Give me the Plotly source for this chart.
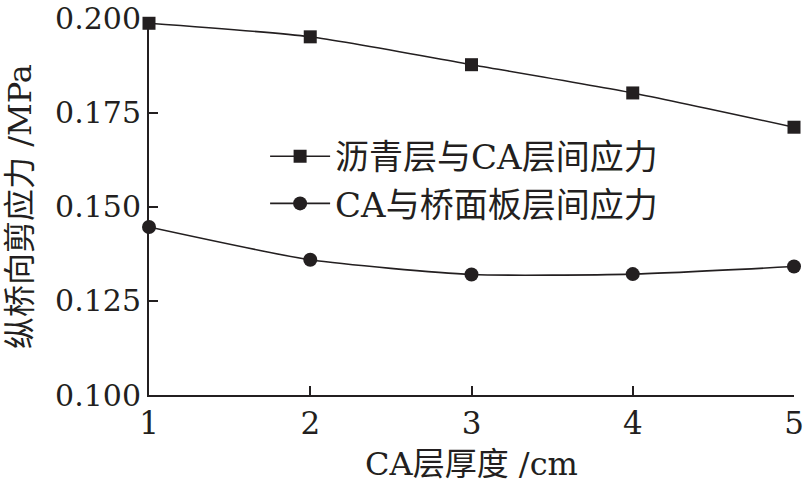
import plotly.graph_objects as go

thickness = [1, 2, 3, 4, 5]
asphalt_ca = [0.1987, 0.1951, 0.1877, 0.1802, 0.1711]
ca_deck = [0.1446, 0.1359, 0.1320, 0.1321, 0.1341]
series_names = ["沥青层与CA层间应力", "CA与桥面板层间应力"]
y_ticks = [0.100, 0.125, 0.150, 0.175, 0.200]
x_ticks = [1, 2, 3, 4, 5]

FONT = "DejaVu Serif, Liberation Serif, Noto Sans CJK SC"
C = "#231f20"

fig = go.Figure()
fig.add_trace(go.Scatter(
    x=thickness, y=asphalt_ca, name=series_names[0], mode="lines+markers",
    line=dict(color=C, width=1.6, shape="spline", smoothing=0.6),
    marker=dict(symbol="square", size=13, color=C), cliponaxis=False))
fig.add_trace(go.Scatter(
    x=thickness, y=ca_deck, name=series_names[1], mode="lines+markers",
    line=dict(color=C, width=1.6, shape="spline", smoothing=0.6),
    marker=dict(symbol="circle", size=14, color=C), cliponaxis=False))

fig.update_layout(
    width=804, height=492,
    margin=dict(l=149, r=10, t=18, b=97),
    paper_bgcolor="white", plot_bgcolor="white",
    font=dict(family=FONT, size=32, color=C),
    legend=dict(x=0.18, y=0.57, xanchor="left", yanchor="middle",
                bgcolor="rgba(0,0,0,0)", font=dict(size=34, family=FONT),
                itemwidth=60, tracegroupgap=0),
    xaxis=dict(range=[1, 5], tickvals=x_ticks, ticktext=[str(v) for v in x_ticks],
               showgrid=False, zeroline=False, showline=True, linecolor=C, linewidth=2,
               ticks="inside", ticklen=9, tickwidth=1.5, tickcolor=C, automargin=False,
               tickfont=dict(size=31, family=FONT), ticklabeloverflow="allow",
               title=dict(text="CA层厚度 /cm", font=dict(size=32, family=FONT), standoff=12)),
    yaxis=dict(range=[0.100, 0.2001], tickvals=y_ticks, ticktext=[f"{v:.3f}" for v in y_ticks],
               showgrid=False, zeroline=False, showline=True, linecolor=C, linewidth=2,
               ticks="inside", ticklen=9, tickwidth=1.5, tickcolor=C, automargin=False,
               tickfont=dict(size=30, family=FONT), ticklabeloverflow="allow",
               title=dict(text="纵桥向剪应力 /MPa", font=dict(size=32, family=FONT), standoff=14)),
)
fig.write_html("out.html", config={"displayModeBar": False},
               post_script="document.body.style.margin='0px';")
